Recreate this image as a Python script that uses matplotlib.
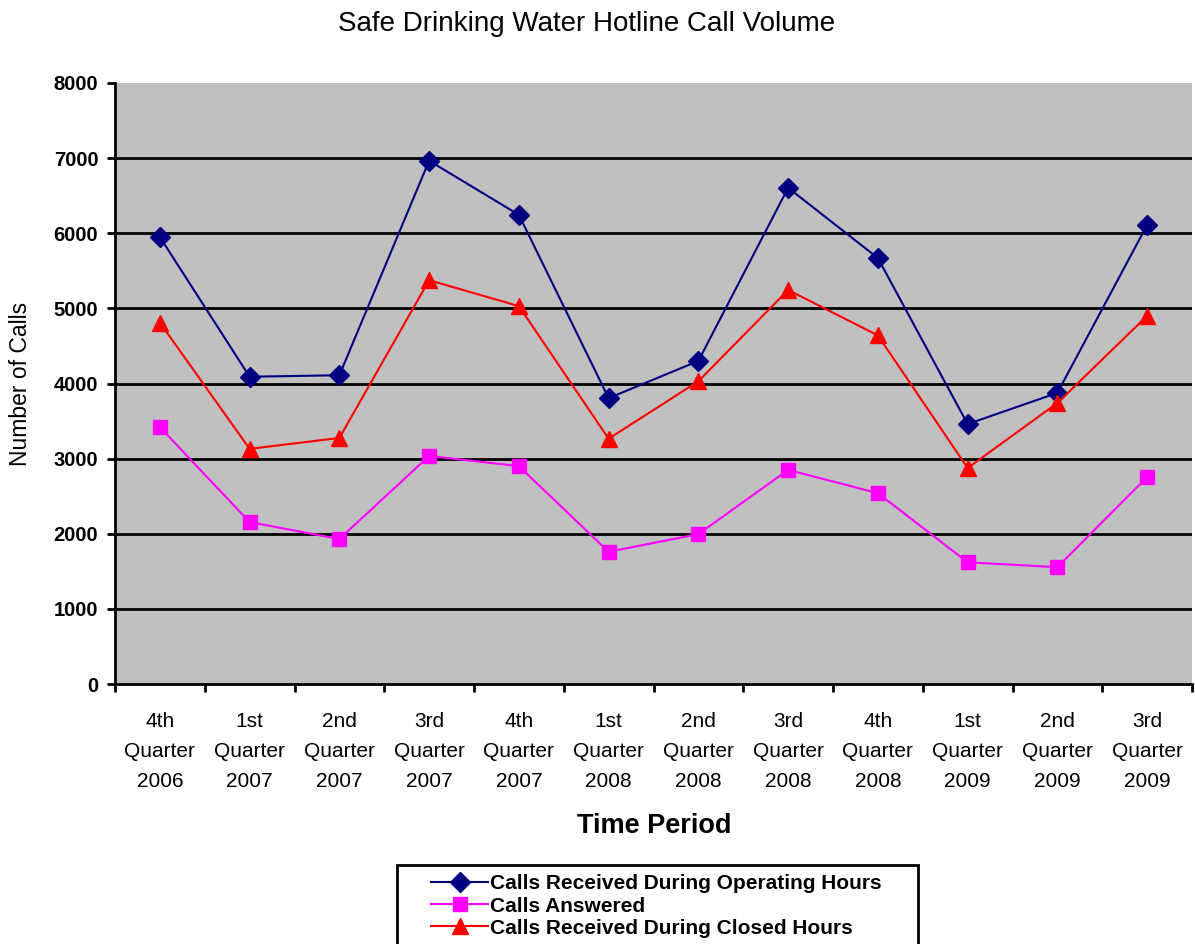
import matplotlib
matplotlib.use('Agg')
from matplotlib import pyplot as plt
from matplotlib.patches import Rectangle
import numpy as np

periods = ['4th\nQuarter\n2006', '1st\nQuarter\n2007', '2nd\nQuarter\n2007', '3rd\nQuarter\n2007',
           '4th\nQuarter\n2007', '1st\nQuarter\n2008', '2nd\nQuarter\n2008', '3rd\nQuarter\n2008',
           '4th\nQuarter\n2008', '1st\nQuarter\n2009', '2nd\nQuarter\n2009', '3rd\nQuarter\n2009']
operating = [5950, 4090, 4110, 6965, 6245, 3805, 4300, 6605, 5670, 3460, 3875, 6110]
answered = [3420, 2155, 1930, 3035, 2900, 1760, 1995, 2850, 2540, 1620, 1555, 2755]
closed = [4810, 3130, 3275, 5375, 5030, 3265, 4030, 5245, 4640, 2875, 3740, 4900]
yticks = list(range(0, 8001, 1000))

plt.rcParams['font.family'] = ['Liberation Sans', 'DejaVu Sans']

W, H = 1195, 944
fig = plt.figure(figsize=(W/100, H/100), dpi=100)
ax = fig.add_axes([115/W, 1-684/H, 1077/W, 601/H])
ax.set_facecolor('#C0C0C0')

x = np.arange(len(periods))
ax.plot(x, operating, color='#000080', marker='D', markersize=10, lw=1.5,
        label='Calls Received During Operating Hours', zorder=3)
ax.plot(x, answered, color='#FF00FF', marker='s', markersize=10, lw=1.5,
        label='Calls Answered', zorder=3)
ax.plot(x, closed, color='#FF0000', marker='^', markersize=11, lw=1.5,
        label='Calls Received During Closed Hours', zorder=3)

ax.set_xlim(-0.5, 11.5)
ax.set_ylim(0, 8000)
ax.set_yticks(yticks)
ax.set_yticklabels([str(v) for v in yticks], fontweight='bold', fontsize=14.5)
for v in yticks[1:-1]:
    ax.axhline(v, color='black', lw=2, zorder=1)

# category labels between the boundary ticks
ax.set_xticks(np.arange(-0.5, 12, 1))
ax.set_xticklabels([])
ax.set_xticks(x, minor=True)
ax.set_xticklabels(periods, minor=True, fontsize=15, linespacing=1.75)
ax.tick_params(axis='x', which='minor', length=0, pad=20)
ax.tick_params(axis='x', which='major', direction='out', length=6, width=2)
ax.tick_params(axis='y', direction='out', length=6, width=2, pad=6)

for s in ['top', 'right']:
    ax.spines[s].set_visible(False)
for s in ['left', 'bottom']:
    ax.spines[s].set_linewidth(2)

fig.text(21/W, 1-384/H, 'Number of Calls', fontsize=16.5, rotation=90, ha='center', va='center')
fig.text(654/W, 1-826/H, 'Time Period', fontweight='bold', fontsize=19.5, ha='center', va='center')
fig.text(587/W, 1-24/H, 'Safe Drinking Water Hotline Call Volume',
         fontsize=20, ha='center', va='center')

# legend box runs off the bottom edge
fig.patches.append(Rectangle((397/W, 1-950/H), 521/W, 85/H, transform=fig.transFigure,
                             facecolor='white', edgecolor='black', lw=2))
leg = fig.legend(loc='upper left', bbox_to_anchor=(421/W, 1-864/H),
                 prop={'weight': 'bold', 'size': 15}, frameon=False,
                 handlelength=2.7, handletextpad=0.1, labelspacing=0.15, borderpad=0.0)

fig.savefig('out.png', dpi=100)
